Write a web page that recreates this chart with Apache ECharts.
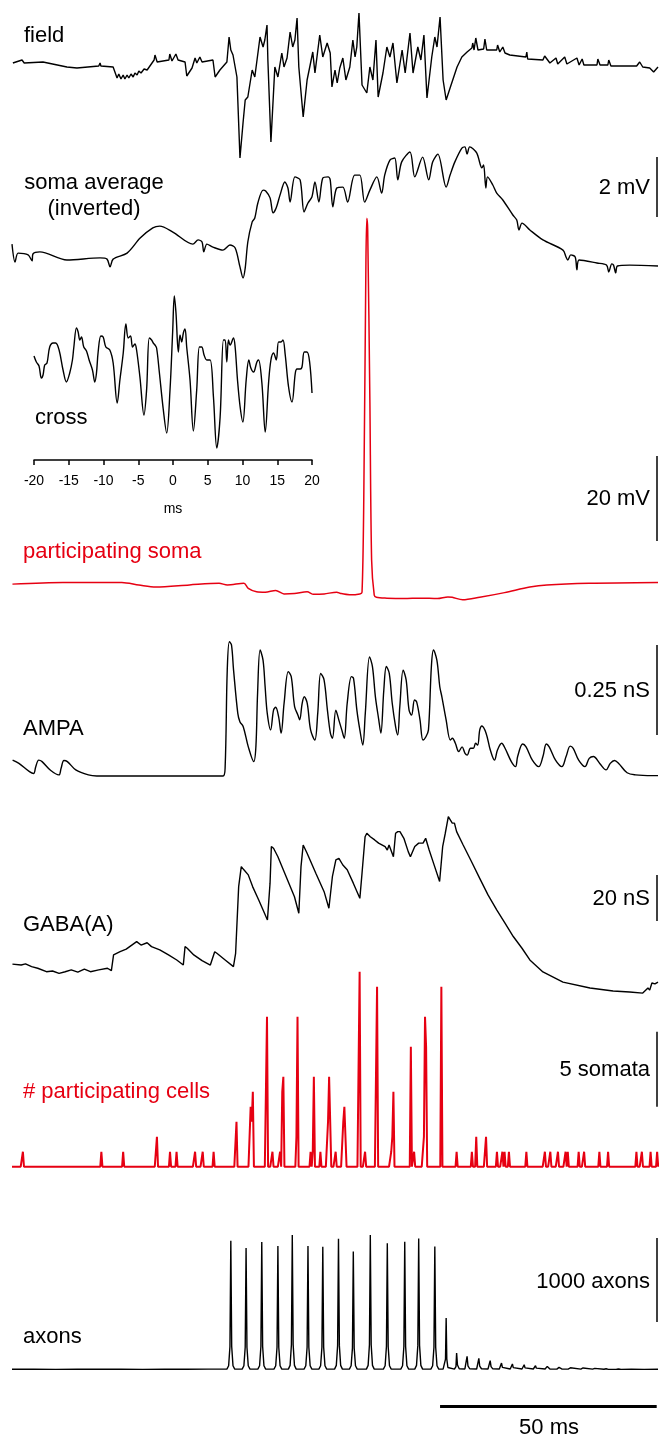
<!DOCTYPE html>
<html>
<head>
<meta charset="utf-8">
<title>Population burst traces</title>
<script src="https://cdn.jsdelivr.net/npm/echarts@6.0.0/dist/echarts.min.js"></script>
<style>
  html, body { margin: 0; padding: 0; background: #fff; }
  #chart { width: 660px; height: 1441px; }
</style>
</head>
<body>
<div id="chart"></div>
<script>
// time in ms
var T_END = 148.2;

// field potential (a.u., up = positive)
var fieldTrace = [
  [0.2,-1],[2.3,2],[2.8,-1],[7.1,0],[12.6,-5],[14.9,-6],[19.9,-4],[20.2,-1],[20.4,-4],[23.2,-5],[24.1,-16],[24.5,-12],[25.0,-17],[25.5,-13],[25.9,-17],[26.4,-13],[26.8,-16],[27.3,-12],[27.8,-15],[28.2,-11],[28.7,-13],[29.1,-9],[29.6,-11],[30.3,-7],[31.0,-8],[32.6,2],[32.8,7],[33.3,0],[36.0,2],[36.2,8],[36.7,1],[37.6,8],[38.1,2],[39.7,0],[40.1,-14],[41.3,-6],[42.0,4],[42.4,-1],[43.1,5],[43.6,0],[46.1,2],[46.6,-15],[47.7,-8],[49.3,0],[49.8,25],[50.2,12],[50.7,7],[51.1,7],[51.6,-15],[52.3,-96],[53.0,-61],[53.5,-38],[54.1,-35],[55.1,-8],[55.7,-15],[56.9,25],[57.6,15],[58.0,22],[58.5,37],[58.7,2],[59.4,-80],[60.3,-5],[61.0,-15],[61.9,9],[62.4,-5],[63.1,4],[63.8,30],[64.4,15],[64.9,22],[65.4,44],[65.8,-5],[66.8,-55],[67.7,-18],[68.4,-3],[69.0,10],[69.5,-11],[70.6,27],[71.3,5],[72.3,19],[73.0,9],[73.4,-25],[74.1,-8],[74.6,-21],[75.2,-6],[75.9,4],[76.6,-18],[77.5,-5],[78.2,22],[78.7,5],[79.1,15],[79.6,49],[80.3,-23],[81.4,-31],[82.1,-5],[82.8,-18],[83.5,22],[84.0,-35],[85.1,-11],[86.0,15],[86.7,5],[87.4,19],[88.3,-21],[89.5,12],[90.2,-11],[91.3,29],[92.0,-11],[93.1,15],[93.8,2],[94.5,27],[95.2,-36],[96.3,5],[97.0,25],[97.5,15],[98.2,45],[98.9,-18],[99.6,-38],[100.5,-26],[102.1,-5],[103.2,5],[104.4,10],[105.5,14],[105.7,19],[106.0,12],[106.4,24],[106.9,12],[108.2,13],[108.5,23],[108.9,12],[111.2,12],[111.4,17],[111.9,10],[112.6,15],[113.1,9],[114.2,7],[117.9,5],[118.1,10],[118.3,3],[121.8,2],[122.2,6],[123.4,-1],[124.8,4],[125.2,-2],[126.8,5],[127.3,-2],[129.6,4],[130.1,-3],[130.8,3],[131.2,-3],[134.2,-3],[134.4,3],[134.9,-3],[136.7,-3],[136.9,2],[137.4,-4],[143.3,-4],[144.0,0],[144.7,-5],[146.3,-6],[147.2,-10],[148.2,-5]
];

// soma average, inverted (mV)
var somaAvgTrace = [
  [0,0.53],[0.7,-0.07],[1.4,0.23],[3.7,0.17],[4.6,-0.03],[4.8,0.2],[6.4,0.27],[12.6,0],[20.2,0.07],[21.8,0.03],[22.5,-0.23],[23.2,0.03],[26.4,0.23],[29.4,0.73],[32.3,1.07],[33.9,1.13],[36.9,0.93],[41.5,0.53],[42.7,0.67],[43.6,0.6],[44.0,0.27],[44.7,0.53],[46.1,0.43],[48.4,0.33],[50.0,0.5],[51.2,0.4],[52.3,-0.23],[53.0,-0.6],[53.5,-0.27],[54.1,0.6],[55.1,1.27],[55.7,1.4],[56.4,1.9],[57.6,2.33],[58.2,2.3],[59.2,2.07],[59.9,1.57],[60.6,1.73],[61.5,2.17],[62.6,2.6],[63.3,2.4],[63.8,1.93],[64.9,2.77],[66.1,2.67],[67.0,1.6],[67.9,1.9],[68.8,2.1],[69.5,2.6],[70.4,1.93],[71.3,2.73],[72.5,2.77],[73.0,2.67],[73.6,1.77],[74.5,2.4],[75.9,2.43],[77.0,1.93],[78.6,2.83],[79.8,2.83],[80.9,1.93],[82.1,2.33],[83.7,2.77],[84.8,2.23],[85.5,2.83],[86.7,3.33],[87.8,3.4],[88.5,2.67],[89.4,3.27],[91.3,3.6],[92.4,2.77],[94.2,3.43],[95.6,2.67],[96.5,3.27],[97.7,3.53],[99.6,2.43],[100.5,2.83],[101.6,3.27],[103.2,3.73],[103.9,3.77],[104.4,3.53],[105.0,3.77],[106.6,3.57],[107.8,3.07],[108.2,3.17],[108.7,2.4],[109.1,2.77],[110.3,2.5],[111.2,2.23],[112.6,2.0],[114.9,1.5],[115.8,1.33],[116.3,1.0],[117.0,1.23],[118.8,1.0],[121.8,0.67],[126.4,0.33],[127.1,0.1],[127.5,0],[128.2,0.17],[129.2,0.1],[129.6,-0.33],[130.1,0],[134.2,-0.1],[136.4,-0.17],[136.9,-0.4],[137.6,-0.13],[138.0,-0.17],[138.5,-0.43],[138.9,-0.2],[141.7,-0.17],[148.2,-0.2]
];

// cross-correlation inset: lag (ms), coefficient
var crossTrace = [
  [-20.0,0.24],[-19.66,0.18],[-19.28,0.14],[-18.94,0.02],[-18.70,0.05],[-18.46,0.15],[-18.13,0.17],[-17.74,0.33],[-17.26,0.37],[-16.88,0.37],[-16.39,0.30],[-15.82,0.10],[-15.34,-0.02],[-14.86,0.07],[-14.47,0.20],[-14.28,0.32],[-13.89,0.52],[-13.65,0.48],[-13.41,0.40],[-13.17,0.43],[-12.84,0.33],[-12.45,0.29],[-12.07,0.20],[-11.59,0.10],[-11.25,-0.02],[-11.01,0.07],[-10.77,0.28],[-10.38,0.44],[-10.05,0.43],[-9.66,0.33],[-9.09,0.30],[-8.61,0.17],[-8.03,-0.23],[-7.64,0.00],[-7.16,0.27],[-6.78,0.56],[-6.44,0.42],[-6.11,0.44],[-5.82,0.33],[-5.48,0.36],[-5.24,0.30],[-4.76,0.03],[-4.18,-0.35],[-3.80,-0.10],[-3.41,0.42],[-3.08,0.40],[-2.84,0.37],[-2.60,0.35],[-2.36,0.32],[-1.97,0.08],[-1.39,-0.30],[-0.91,-0.53],[-0.43,-0.10],[-0.05,0.48],[0.19,0.84],[0.43,0.67],[0.77,0.28],[1.01,0.45],[1.25,0.38],[1.49,0.47],[1.73,0.51],[1.97,0.33],[2.45,0.00],[2.93,-0.51],[3.41,-0.10],[3.80,0.33],[4.13,0.33],[4.47,0.25],[4.86,0.20],[5.34,0.20],[5.82,-0.17],[6.30,-0.68],[6.78,-0.37],[7.26,0.40],[7.50,0.40],[7.74,0.18],[7.98,0.40],[8.22,0.35],[8.70,0.42],[8.94,0.33],[9.28,0.00],[9.66,-0.27],[10.05,-0.42],[10.53,0.00],[10.91,0.20],[11.20,0.12],[11.59,0.08],[12.07,0.18],[12.31,0.20],[12.79,-0.03],[13.27,-0.52],[13.75,-0.03],[14.09,0.20],[14.47,0.27],[14.86,0.20],[15.19,0.38],[15.53,0.38],[15.82,0.40],[16.15,0.25],[16.63,-0.07],[17.12,-0.22],[17.60,0.07],[17.84,0.11],[18.32,0.11],[18.56,0.13],[18.89,0.28],[19.28,0.28],[19.66,0.18],[20.00,-0.13]
];
var crossTicks = [-20, -15, -10, -5, 0, 5, 10, 15, 20];

// participating soma membrane potential (mV)
var partSomaTrace = [
  [0.1,-65.5],[11.7,-65.1],[25.2,-65.1],[29.1,-65.7],[33.0,-66.2],[40.7,-65.7],[47.5,-65.3],[49.4,-65.7],[53.2,-65.3],[54.2,-66.5],[56.1,-67.3],[58.1,-67.4],[60.5,-67.0],[62.4,-67.8],[64.8,-67.7],[67.7,-67.3],[69.2,-67.9],[71.6,-67.8],[74.5,-67.4],[75.4,-67.7],[77.4,-68.0],[79.8,-67.8],[80.3,-67.4],[80.7,-45.7],[81.2,10.8],[81.4,20.6],[81.6,17.8],[82.1,-22.2],[82.5,-59.8],[83.1,-68.1],[83.6,-68.6],[86.0,-68.8],[89.9,-68.9],[93.8,-68.8],[97.6,-68.9],[100.0,-68.5],[101.0,-68.6],[103.4,-69.2],[107.3,-68.6],[113.0,-67.5],[118.8,-66.2],[122.7,-65.7],[132.4,-65.3],[148.2,-65.1]
];

// AMPA conductance (nS)
var ampaTrace = [
  [0.14,0.044],[1.59,0.035],[4.01,0.012],[4.97,0.007],[5.45,0.026],[6.13,0.044],[6.90,0.040],[8.83,0.016],[10.76,0.003],[11.25,0.021],[11.92,0.043],[12.70,0.040],[14.63,0.017],[17.52,0.003],[19.45,0],[48.42,0],[48.90,0.026],[49.38,0.294],[49.87,0.373],[50.35,0.364],[50.83,0.294],[51.80,0.174],[52.28,0.151],[53.05,0.137],[54.21,0.081],[55.47,0.040],[55.95,0.081],[56.34,0.230],[56.92,0.350],[57.59,0.322],[58.07,0.248],[58.56,0.174],[59.33,0.128],[60.00,0.183],[60.49,0.191],[61.16,0.165],[61.74,0.119],[62.42,0.202],[63.38,0.290],[64.06,0.276],[64.83,0.193],[65.60,0.169],[65.99,0.156],[66.57,0.202],[67.05,0.220],[67.73,0.202],[68.50,0.128],[69.47,0.100],[70.14,0.174],[70.82,0.285],[71.59,0.267],[72.36,0.183],[73.04,0.119],[73.52,0.105],[74.29,0.183],[74.97,0.156],[75.65,0.128],[76.22,0.105],[76.90,0.202],[77.87,0.276],[78.35,0.271],[79.12,0.183],[79.80,0.128],[80.47,0.086],[81.05,0.174],[82.02,0.331],[82.69,0.304],[83.37,0.220],[84.14,0.156],[84.62,0.119],[85.30,0.239],[85.88,0.304],[86.55,0.285],[87.23,0.202],[88.00,0.137],[88.48,0.114],[88.97,0.193],[89.74,0.294],[90.42,0.267],[91.09,0.183],[91.67,0.169],[92.35,0.211],[92.83,0.206],[93.60,0.156],[94.28,0.100],[94.96,0.109],[95.54,0.128],[96.21,0.304],[96.69,0.350],[97.47,0.322],[98.14,0.248],[98.62,0.220],[99.59,0.156],[100.56,0.100],[101.04,0.105],[101.71,0.091],[102.49,0.068],[103.26,0.081],[103.93,0.063],[104.42,0.058],[105.19,0.077],[105.86,0.077],[106.35,0.091],[106.83,0.086],[107.31,0.128],[107.80,0.139],[108.76,0.119],[109.73,0.072],[110.69,0.044],[111.37,0.072],[112.33,0.091],[113.11,0.077],[114.55,0.040],[115.52,0.026],[116.00,0.054],[117.16,0.089],[117.93,0.081],[119.38,0.044],[120.83,0.026],[121.80,0.054],[122.57,0.089],[123.24,0.081],[124.69,0.044],[126.14,0.026],[127.11,0.054],[128.07,0.083],[128.75,0.077],[130.00,0.044],[131.45,0.026],[132.42,0.049],[133.38,0.054],[134.83,0.035],[136.28,0.017],[137.25,0.035],[138.21,0.043],[139.18,0.035],[141.11,0.009],[143.04,0.003],[146.90,0.001],[148.2,0.001]
];

// GABA(A) conductance (nS)
var gabaTrace = [
  [0.1,15.6],[2.1,15.2],[3.1,15.7],[4.5,14.5],[5.9,13.8],[7.9,12.3],[9.3,12.6],[10.8,11.6],[12.2,12.3],[13.6,13.1],[15.1,12.1],[16.6,13.4],[18.0,12.3],[19.9,13.1],[21.9,13.8],[22.8,12.8],[23.3,19.6],[24.8,21.0],[26.2,22.1],[28.6,25.4],[29.6,23.9],[31.0,24.9],[32.0,23.2],[33.9,21.8],[35.9,19.6],[37.8,17.4],[39.3,15.2],[39.7,23.2],[40.2,22.5],[41.7,19.6],[43.6,17.1],[45.5,15.2],[46.5,21.0],[47.0,20.3],[48.9,17.4],[50.8,14.5],[51.3,20.3],[52.0,49.3],[52.6,58.0],[53.2,56.6],[54.2,54.4],[55.2,49.3],[56.6,43.5],[58.6,34.8],[59.2,50.8],[59.5,66.7],[60.0,66.0],[61.0,62.3],[62.9,53.6],[64.8,44.9],[65.8,37.7],[66.3,58.0],[66.8,67.4],[67.7,63.8],[69.7,55.1],[71.6,47.1],[72.7,39.9],[73.5,53.6],[74.3,60.9],[75.0,61.6],[75.9,58.7],[76.9,56.6],[78.3,50.8],[79.8,44.2],[80.3,55.1],[81.0,71.0],[81.4,72.5],[82.2,71.0],[83.2,69.6],[84.1,68.2],[85.6,66.7],[86.1,65.2],[86.5,67.4],[87.5,62.3],[88.0,72.5],[88.5,73.2],[89.0,73.2],[89.9,70.3],[90.9,64.5],[91.4,62.3],[92.4,66.7],[93.3,68.2],[94.3,68.2],[94.9,70.3],[95.7,65.2],[96.7,59.5],[98.1,51.5],[98.8,66.7],[99.4,72.5],[100.1,79.7],[100.5,80.0],[101.0,76.9],[101.5,76.9],[102.0,73.2],[103.5,67.4],[105.4,60.2],[107.3,52.9],[109.2,45.7],[111.2,39.2],[113.1,33.4],[115.0,27.6],[117.0,22.5],[118.8,17.4],[121.8,12.2],[126.4,7.8],[132.6,5.2],[137.9,3.9],[141.7,3.5],[144.7,3.0],[145.9,5.2],[146.3,4.3],[146.8,7.4],[147.5,7.0],[148.2,7.8]
];

// number of participating somata per 0.25 ms bin
var cellTimes = [2.4,20.4,25.5,32.9,33.2,36.2,37.8,42.1,43.7,46.3,51.4,54.75,55.0,55.25,58.4,59.8,61.5,62.0,62.3,65.2,65.45,68.5,69.0,69.3,70.8,72.55,72.8,73.05,74.3,75.9,76.2,76.4,79.8,81.0,83.7,86.9,87.2,87.6,91.5,92.2,94.5,94.75,95.0,98.4,102.0,105.5,106.6,108.7,111.2,112.5,112.9,114.0,118.1,122.3,123.4,125.2,126.9,127.4,129.9,131.2,134.7,136.8,143.3,144.4,146.5,148.0];
var cellCounts = [1,1,1,1,2,1,1,1,1,1,3,4,3,5,10,1,1,5,6,2,10,1,1,6,1,3,6,6,1,3,4,4,13,1,12,1,2,5,8,1,2,10,8,12,1,1,2,2,1,1,1,1,1,1,1,1,1,1,1,1,1,1,1,1,1,1];

// active axons
var axonTrace = [
  [0,9],[5,11],[10,8],[15,10],[20,9],[25,11],[30,8],[35,10],[40,9],[45,11],
  [49.3,10],[49.7,50],[50.0,280],[50.2,1539],[50.4,280],[50.7,50],[51.1,10],
  [52.8,10],[53.2,50],[53.5,270],[53.7,1452],[53.9,270],[54.2,50],[54.6,10],
  [56.4,10],[56.8,50],[57.1,280],[57.3,1523],[57.5,280],[57.8,50],[58.2,10],
  [60.1,10],[60.5,50],[60.8,270],[61.0,1476],[61.2,270],[61.5,50],[61.9,10],
  [63.4,10],[63.8,55],[64.1,300],[64.3,1607],[64.5,300],[64.8,55],[65.2,10],
  [67.0,10],[67.4,50],[67.7,270],[67.9,1476],[68.1,270],[68.4,50],[68.8,10],
  [70.4,10],[70.8,50],[71.1,270],[71.3,1467],[71.5,270],[71.8,50],[72.2,10],
  [74.0,10],[74.4,55],[74.7,290],[74.9,1563],[75.1,290],[75.4,55],[75.8,10],
  [77.4,10],[77.8,50],[78.1,260],[78.3,1411],[78.5,260],[78.8,50],[79.2,10],
  [81.3,10],[81.7,55],[82.0,300],[82.2,1607],[82.4,300],[82.7,55],[83.1,10],
  [85.2,10],[85.6,50],[85.9,280],[86.1,1507],[86.3,280],[86.6,50],[87.0,10],
  [89.2,10],[89.6,50],[89.9,280],[90.1,1527],[90.3,280],[90.6,50],[91.0,10],
  [92.4,10],[92.8,55],[93.1,290],[93.3,1566],[93.5,290],[93.8,55],[94.2,10],
  [96.1,10],[96.5,50],[96.8,270],[97.0,1471],[97.2,270],[97.5,50],[97.9,10],
  [98.9,10],[99.2,30],[99.45,130],[99.6,619],[99.75,130],[100.0,30],[100.4,10],
  [101.5,10],[101.85,40],[102.0,202],[102.2,60],[102.6,15],
  [103.9,12],[104.25,35],[104.4,162],[104.6,50],[105.0,15],
  [106.6,12],[106.95,35],[107.1,138],[107.3,45],[107.7,15],
  [109.2,12],[109.55,30],[109.7,111],[109.9,40],[110.3,14],
  [111.8,12],[112.15,25],[112.3,83],[112.5,32],[112.9,14],
  [114.3,12],[114.8,71],[115.0,28],[115.4,13],
  [117.0,12],[117.5,63],[117.7,25],[118.1,13],
  [119.6,12],[120.1,51],[120.3,22],[120.7,12],
  [122.3,12],[122.8,43],[123.0,20],[123.4,12],
  [125.0,11],[125.5,31],[125.8,16],[126.2,11],
  [127.6,11],[128.1,27],[128.5,12],
  [130.5,11],[131.0,24],[131.4,11],
  [133.2,10],[133.7,19],[134.1,10],
  [135.8,9],[136.3,15],[136.8,8],[138.7,9],[139.2,12],[139.7,7],[142.1,10],[145,8],[148.2,9]
];

var FONT = '22px "Liberation Sans", Arial, Helvetica, sans-serif';
var RED = "#e60012";

// pixel frame of a trace: y0 = pixel row of value 0, k = px per unit
function panel(y0, k, lo, hi) {
  return { left: 12, width: 646, top: y0 - hi * k, height: (hi - lo) * k, outerBoundsMode: "none" };
}

var panels = [
  { grid: panel(62, 1, -100, 52), lo: -100, hi: 52 },          // field
  { grid: panel(260, 30, -0.7, 4.0), lo: -0.7, hi: 4.0 },      // soma average
  { grid: panel(305.75, 4.25, -70, 22), lo: -70, hi: 22 },     // participating soma
  { grid: panel(776, 360, -0.01, 0.4), lo: -0.01, hi: 0.4 },   // AMPA
  { grid: panel(1000, 2.3, 0, 82), lo: 0, hi: 82 },            // GABA(A)
  { grid: panel(1166.7, 15, -0.3, 13.5), lo: -0.3, hi: 13.5 }, // cells
  { grid: panel(1370, 1 / 11.9, -500, 1700), lo: -500, hi: 1700 } // axons
];

var grids = [], xAxes = [], yAxes = [];
panels.forEach(function (p, i) {
  grids.push(p.grid);
  xAxes.push({ type: "value", gridIndex: i, min: 0, max: T_END, show: false });
  yAxes.push({ type: "value", gridIndex: i, min: p.lo, max: p.hi, show: false });
});

// cross-correlation inset
grids.push({ left: 34, width: 278, top: 290, height: 170, outerBoundsMode: "none" });
xAxes.push({
  type: "value", gridIndex: 7, min: -20, max: 20, interval: 5,
  axisLine: { onZero: false, lineStyle: { color: "#000", width: 1.5 } },
  axisTick: { length: 5, lineStyle: { color: "#000", width: 1.5 } },
  axisLabel: { color: "#000", fontSize: 14, margin: 14, fontFamily: "Liberation Sans, Arial",
    customValues: crossTicks },
  splitLine: { show: false },
  name: "ms", nameLocation: "middle", nameGap: 42,
  nameTextStyle: { color: "#000", fontSize: 14, fontFamily: "Liberation Sans, Arial" }
});
yAxes.push({ type: "value", gridIndex: 7, min: -0.8, max: 0.9, show: false });

var binMs = 0.25;
var cellBins = new Array(Math.round(T_END / binMs) + 1).fill(0);
cellTimes.forEach(function (t, i) {
  var b = Math.round(t / binMs);
  cellBins[b] = Math.max(cellBins[b], cellCounts[i]);
});
var cellData = cellBins.map(function (n, i) { return [i * binMs, n]; });

function scaleBar(from, to, width) {
  return {
    silent: true, symbol: ["none", "none"], animation: false,
    label: { show: false },
    lineStyle: { color: "#000", width: width || 1.5, type: "solid" },
    data: [[{ coord: from }, { coord: to }]]
  };
}

function trace(idx, data, color, width, smooth, bar) {
  var s = {
    type: "line", xAxisIndex: idx, yAxisIndex: idx, data: data,
    showSymbol: false, symbol: "none", smooth: smooth || false,
    lineStyle: { color: color, width: width }, itemStyle: { color: color },
    clip: false, animation: false, silent: true
  };
  if (bar) s.markLine = bar;
  return s;
}

var xb = 147.9;
var axonBar = scaleBar([xb, 570], [xb, 1570]);
axonBar.data.push([{ coord: [98.2, -430], lineStyle: { width: 3 } }, { coord: [xb, -430] }]);

var series = [
  trace(0, fieldTrace, "#000", 1.4, false),
  trace(1, somaAvgTrace, "#000", 1.4, 0.3, scaleBar([xb, 1.43], [xb, 3.43])),
  trace(2, partSomaTrace, RED, 1.5, 0.3, scaleBar([xb, -55.35], [xb, -35.35])),
  trace(3, ampaTrace, "#000", 1.4, 0.35, scaleBar([xb, 0.114], [xb, 0.364])),
  trace(4, gabaTrace, "#000", 1.4, false, scaleBar([xb, 34.3], [xb, 54.3])),
  trace(5, cellData, RED, 2, false, scaleBar([xb, 4], [xb, 9])),
  trace(6, axonTrace, "#000", 1.4, false, axonBar),
  trace(7, crossTrace, "#000", 1.4, 0.35)
];

function label(text, x, y, align, color) {
  return {
    type: "text", x: x, y: y, silent: true,
    style: { text: text, font: FONT, fill: color || "#000",
      align: align || "left", textAlign: align || "left",
      verticalAlign: "middle", textVerticalAlign: "middle" }
  };
}

var graphics = [
  label("field", 24, 36),
  label("soma average", 94, 183, "center"),
  label("(inverted)", 94, 209, "center"),
  label("cross", 35, 418),
  label("participating soma", 23, 552, "left", RED),
  label("AMPA", 23, 729),
  label("GABA(A)", 23, 925),
  label("# participating cells", 23, 1092, "left", RED),
  label("axons", 23, 1337),
  label("2 mV", 650, 188, "right"),
  label("20 mV", 650, 499, "right"),
  label("0.25 nS", 650, 691, "right"),
  label("20 nS", 650, 899, "right"),
  label("5 somata", 650, 1070, "right"),
  label("1000 axons", 650, 1282, "right"),
  label("50 ms", 549, 1428, "center")
];

var chart = echarts.init(document.getElementById("chart"), null, { renderer: "canvas" });
chart.setOption({
  animation: false,
  backgroundColor: "#fff",
  grid: grids,
  xAxis: xAxes,
  yAxis: yAxes,
  series: series,
  graphic: graphics
});
</script>
</body>
</html>
